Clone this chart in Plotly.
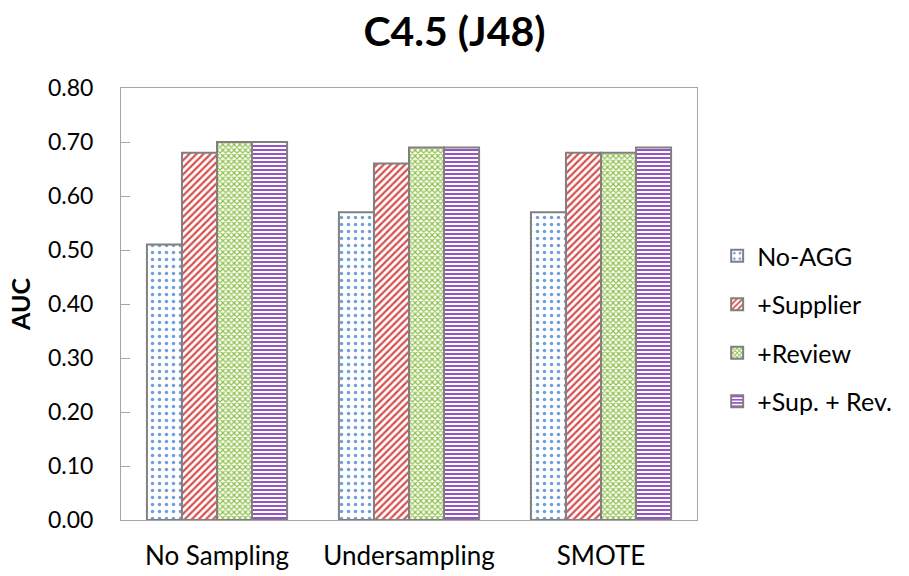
import plotly.graph_objects as go

categories = ["No Sampling", "Undersampling", "SMOTE"]
series_names = ["No-AGG", "+Supplier", "+Review", "+Sup. + Rev."]
no_agg = [0.51, 0.57, 0.57]
supplier = [0.68, 0.66, 0.68]
review = [0.70, 0.69, 0.68]
sup_rev = [0.70, 0.69, 0.69]
y_ticks = [0.0, 0.1, 0.2, 0.3, 0.4, 0.5, 0.6, 0.7, 0.8]

styles = [
    dict(shape=".", fgcolor="#6FA0DC", size=7, solidity=0.2),
    dict(shape="/", fgcolor="#D64F4F", size=5, solidity=0.45),
    dict(shape="x", fgcolor="#8CBF45", size=4, solidity=0.5),
    dict(shape="-", fgcolor="#8A3FC0", size=4, solidity=0.45),
]

fig = go.Figure()
for name, vals, st in zip(series_names, [no_agg, supplier, review, sup_rev], styles):
    fig.add_trace(go.Bar(
        x=categories, y=vals, name=name, legendgroup=name,
        marker=dict(color="white", line=dict(color="#808080", width=2),
                    pattern=dict(fillmode="replace", bgcolor="white", fgopacity=1, **st)),
    ))

font = "Lato, Calibri, sans-serif"
fig.update_layout(
    width=909, height=576,
    margin=dict(l=121, r=212, t=88, b=56, autoexpand=False),
    paper_bgcolor="white", plot_bgcolor="white",
    barmode="group", bargap=0.27, bargroupgap=0,
    title=dict(text="<b>C4.5 (J48)</b>", x=0.5, xanchor="center", y=0.945, yanchor="middle",
               font=dict(family=font, size=41, color="black")),
    font=dict(family=font, color="black"),
    legend=dict(x=1.035, xanchor="left", y=0.443, yanchor="middle",
                font=dict(family=font, size=25, color="black"),
                tracegroupgap=13, itemwidth=30),
    xaxis=dict(showline=True, linecolor="#A6A6A6", linewidth=1, mirror=True, automargin=False,
               ticks="", tickfont=dict(size=26), showgrid=False, ticklabelstandoff=13),
    yaxis=dict(range=[0, 0.8], tickvals=y_ticks, tickformat=".2f", automargin=False,
               showline=True, linecolor="#A6A6A6", linewidth=1, mirror=True,
               ticks="inside", ticklen=9, tickcolor="#A6A6A6", showgrid=False,
               tickfont=dict(size=23), ticklabelstandoff=22,
               title=dict(text="<b>AUC</b>", font=dict(size=25), standoff=10)),
)

fig.write_html("out.html")
